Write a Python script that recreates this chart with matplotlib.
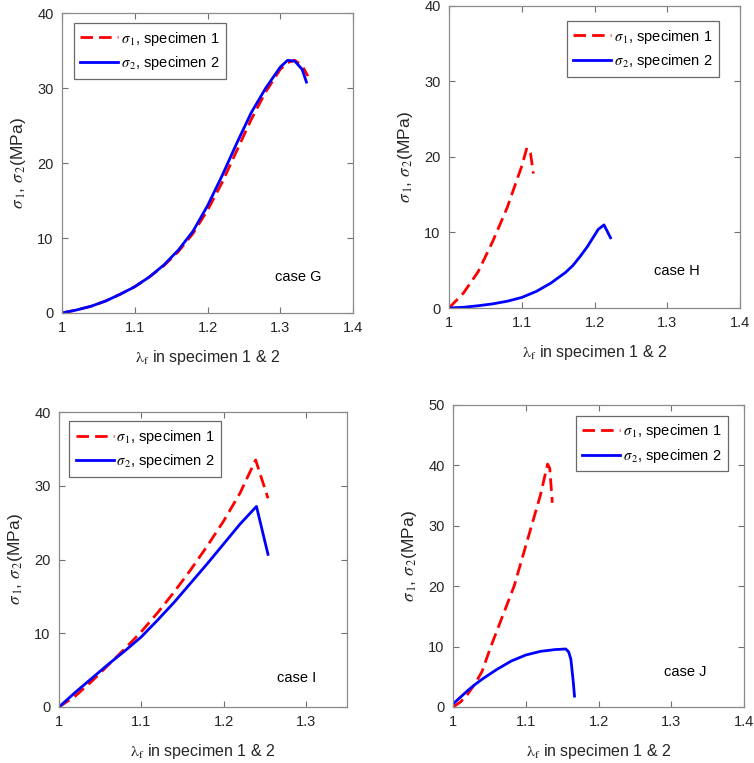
import numpy as np
import matplotlib
matplotlib.use("Agg")
import matplotlib.pyplot as plt

plt.rcParams['font.family'] = ['Liberation Sans', 'DejaVu Sans']
plt.rcParams['mathtext.fontset'] = 'stix'

# ---- case G ----
g_x1 = [1.0, 1.02, 1.04, 1.06, 1.08, 1.10, 1.12, 1.14, 1.16, 1.18, 1.20, 1.22, 1.24, 1.26, 1.28, 1.30, 1.31, 1.32, 1.33, 1.338]
g_y1 = [0, 0.4, 0.9, 1.6, 2.5, 3.5, 4.8, 6.3, 8.2, 10.6, 13.7, 17.4, 21.6, 25.8, 29.5, 32.5, 33.4, 33.7, 33.0, 31.6]
g_x2 = [1.0, 1.02, 1.04, 1.06, 1.08, 1.10, 1.12, 1.14, 1.16, 1.18, 1.20, 1.22, 1.24, 1.26, 1.28, 1.30, 1.31, 1.32, 1.33, 1.336]
g_y2 = [0, 0.4, 0.9, 1.6, 2.5, 3.5, 4.8, 6.4, 8.4, 10.9, 14.3, 18.3, 22.6, 26.7, 30.0, 32.8, 33.7, 33.6, 32.5, 30.8]

# ---- case H ----
h_x1 = [1.0, 1.02, 1.04, 1.06, 1.08, 1.10, 1.107, 1.112, 1.116]
h_y1 = [0, 2.0, 4.8, 8.8, 13.3, 18.8, 21.2, 20.5, 17.8]
h_x2 = [1.0, 1.02, 1.04, 1.06, 1.08, 1.10, 1.12, 1.14, 1.16, 1.17, 1.18, 1.19, 1.205, 1.213, 1.222]
h_y2 = [0, 0.1, 0.3, 0.55, 0.9, 1.4, 2.2, 3.3, 4.7, 5.6, 6.8, 8.1, 10.4, 11.0, 9.3]

# ---- case I ----
i_x1 = [1.0, 1.02, 1.04, 1.06, 1.08, 1.10, 1.12, 1.14, 1.16, 1.18, 1.20, 1.22, 1.239, 1.254]
i_y1 = [0, 1.5, 3.5, 5.7, 7.9, 10.2, 12.8, 15.6, 18.6, 21.8, 25.2, 29.0, 33.5, 28.3]
i_x2 = [1.0, 1.02, 1.04, 1.06, 1.08, 1.10, 1.12, 1.14, 1.16, 1.18, 1.20, 1.22, 1.23, 1.240, 1.254]
i_y2 = [0, 2.0, 3.9, 5.8, 7.6, 9.5, 11.8, 14.2, 16.8, 19.4, 22.1, 24.8, 26.0, 27.2, 20.7]

# ---- case J ----
j_x1 = [1.0, 1.01, 1.02, 1.03, 1.04, 1.052, 1.068, 1.084, 1.096, 1.108, 1.12, 1.13, 1.133, 1.1365]
j_y1 = [0, 0.8, 2.1, 3.8, 5.9, 10.0, 15.0, 20.0, 25.0, 30.0, 35.0, 40.2, 39.5, 33.8]
j_x2 = [1.0, 1.01, 1.02, 1.03, 1.04, 1.06, 1.08, 1.10, 1.12, 1.14, 1.155, 1.159, 1.162, 1.165, 1.167]
j_y2 = [0.5, 1.6, 2.7, 3.7, 4.6, 6.2, 7.6, 8.6, 9.2, 9.5, 9.6, 9.1, 7.9, 4.5, 1.8]

cases = [
    # name, x1, y1, x2, y2, xmax, xticks, ymax, text pos, axes rect, legend loc, legend anchor
    ("case G", g_x1, g_y1, g_x2, g_y2, 1.4, [1, 1.1, 1.2, 1.3, 1.4], 40, (1.293, 4.8),
     [0.0822, 0.5898, 0.386, 0.393], 'upper left', (0.041, 0.967)),
    ("case H", h_x1, h_y1, h_x2, h_y2, 1.4, [1, 1.1, 1.2, 1.3, 1.4], 40, (1.282, 4.9),
     [0.5955, 0.5963, 0.386, 0.396], 'upper right', (0.928, 0.950)),
    ("case I", i_x1, i_y1, i_x2, i_y2, 1.35, [1, 1.1, 1.2, 1.3], 40, (1.265, 3.9),
     [0.0782, 0.0734, 0.382, 0.3866], 'upper left', (0.035, 0.969)),
    ("case J", j_x1, j_y1, j_x2, j_y2, 1.4, [1, 1.1, 1.2, 1.3, 1.4], 50, (1.29, 5.8),
     [0.6008, 0.0734, 0.386, 0.396], 'upper right', (0.945, 0.964)),
]

fig = plt.figure(figsize=(7.54, 7.63), dpi=100)

for name, x1, y1, x2, y2, xmax, xticks, ymax, tpos, rect, lloc, lanchor in cases:
    ax = fig.add_axes(rect)
    ax.plot(x1, y1, color='#ff0000', lw=2, ls=(0, (4.5, 2.2)), label=r'$\sigma_{\,1}$, specimen 1')
    ax.plot(x2, y2, color='#0000ff', lw=2, label=r'$\sigma_{\,2}$, specimen 2')
    ax.set_xlim(1, xmax)
    ax.set_ylim(0, ymax)
    ax.set_xticks(xticks)
    ax.set_xticklabels([('%g' % t) for t in xticks])
    ax.set_yticks(np.arange(0, ymax + 1, 10))
    ax.tick_params(direction='in', top=True, right=True, length=4, width=0.8,
                   colors='#707070', labelcolor='#262626', labelsize=10.5, pad=6)
    for s in ax.spines.values():
        s.set_color('#8a8a8a')
        s.set_linewidth(0.9)
    ax.set_xlabel(r'$\mathrm{\lambda}_{\mathrm{f}}$ in specimen 1 & 2', fontsize=11.5,
                  color='#262626', labelpad=9)
    ax.set_ylabel(r'$\sigma_{\,1}$, $\sigma_{\,2}$(MPa)', fontsize=12.5, color='#262626', labelpad=7)
    ax.text(tpos[0], tpos[1], name, fontsize=10.5, color='black', ha='left', va='center')
    leg = ax.legend(loc=lloc, bbox_to_anchor=lanchor, borderaxespad=0, fontsize=10.5,
                    handlelength=2.6, handletextpad=0.2, fancybox=False, framealpha=1,
                    edgecolor='#6a6a6a', borderpad=0.45, labelspacing=0.45)
    leg.get_frame().set_linewidth(0.9)

fig.savefig('out.png', dpi=100)
